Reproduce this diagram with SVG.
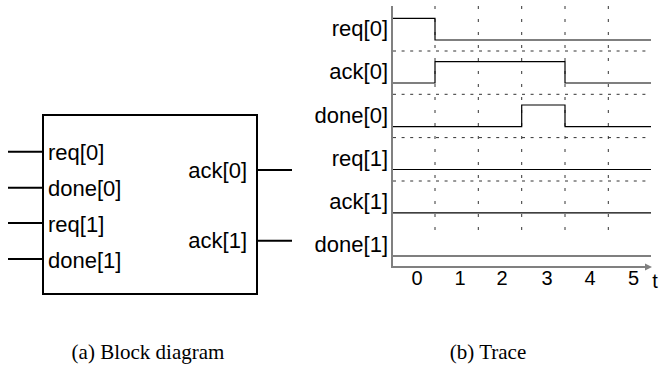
<svg xmlns="http://www.w3.org/2000/svg" width="662" height="367" viewBox="0 0 662 367">
<style>
.lbl{font-family:"Liberation Sans",Arial,sans-serif;font-size:22px;fill:#000}
.num{font-family:"Liberation Sans",Arial,sans-serif;font-size:20px;fill:#000;text-anchor:middle}
.cap{font-family:"Liberation Serif","Times New Roman",serif;font-size:21px;fill:#000;text-anchor:middle}
.stub{stroke:#000;stroke-width:2;fill:none}
.sig{stroke:#000;stroke-width:1.2;fill:none}
.hgrid{stroke:#333;stroke-width:1;stroke-dasharray:3 5.6;fill:none}
.vgrid{stroke:#333;stroke-width:1;stroke-dasharray:3 10;fill:none}
.axis{stroke:#808080;stroke-width:2;fill:none}
</style>
<rect width="662" height="367" fill="#fff"/>

<g id="block">
<rect x="43" y="115" width="214" height="179" fill="#fff" stroke="#000" stroke-width="2"/>
<text class="lbl" x="48" y="160">req[0]</text>
<text class="lbl" x="48" y="196">done[0]</text>
<text class="lbl" x="48" y="231.5">req[1]</text>
<text class="lbl" x="48" y="267.5">done[1]</text>
<text class="lbl" x="247" y="178" text-anchor="end">ack[0]</text>
<text class="lbl" x="247" y="248" text-anchor="end">ack[1]</text>
</g>

<g id="connectors">
<line class="stub" x1="8" y1="151.7" x2="43" y2="151.7"/>
<line class="stub" x1="8" y1="187.7" x2="43" y2="187.7"/>
<line class="stub" x1="8" y1="223" x2="43" y2="223"/>
<line class="stub" x1="8" y1="259" x2="43" y2="259"/>
<line class="stub" x1="257" y1="170" x2="292" y2="170"/>
<line class="stub" x1="257" y1="240.7" x2="292" y2="240.7"/>
</g>

<g id="trace">
<g id="grid">
<line class="vgrid" x1="435" y1="6" x2="435" y2="237"/>
<line class="vgrid" x1="478.3" y1="6" x2="478.3" y2="237"/>
<line class="vgrid" x1="521.7" y1="6" x2="521.7" y2="237"/>
<line class="vgrid" x1="565" y1="6" x2="565" y2="237"/>
<line class="vgrid" x1="608.3" y1="6" x2="608.3" y2="237"/>
<line class="hgrid" x1="393" y1="51" x2="646" y2="51"/>
<line class="hgrid" x1="393" y1="94.3" x2="646" y2="94.3"/>
<line class="hgrid" x1="393" y1="137.6" x2="646" y2="137.6"/>
<line class="hgrid" x1="393" y1="181" x2="646" y2="181"/>
</g>
<g id="signals">
<path class="sig" d="M392,18.3 H435 V40 H651"/>
<path class="sig" d="M392,83 H435 V61.7 H565 V83 H651"/>
<path class="sig" d="M392,126.7 H521.7 V105 H565 V126.7 H651"/>
<path class="sig" d="M392,169.5 H651"/>
<path class="sig" d="M392,212.8 H651"/>
<path class="sig" d="M392,256 H651"/>
</g>
<g id="axes">
<line class="axis" x1="392" y1="6" x2="392" y2="267"/>
<line class="axis" x1="391" y1="267" x2="646" y2="267"/>
<path d="M645,263.5 L652,267 L645,270.5 Z" fill="#808080"/>
</g>
<g id="labels">
<text class="lbl" x="388" y="36" text-anchor="end">req[0]</text>
<text class="lbl" x="388" y="79" text-anchor="end">ack[0]</text>
<text class="lbl" x="388" y="122.5" text-anchor="end">done[0]</text>
<text class="lbl" x="388" y="165.5" text-anchor="end">req[1]</text>
<text class="lbl" x="388" y="209" text-anchor="end">ack[1]</text>
<text class="lbl" x="388" y="252" text-anchor="end">done[1]</text>
<text class="num" x="417" y="285">0</text>
<text class="num" x="460" y="285">1</text>
<text class="num" x="502" y="285">2</text>
<text class="num" x="547" y="285">3</text>
<text class="num" x="590" y="285">4</text>
<text class="num" x="633.5" y="285">5</text>
<text class="num" x="655" y="288">t</text>
</g>
</g>

<text class="cap" x="148" y="359">(a) Block diagram</text>
<text class="cap" x="488" y="359">(b) Trace</text>
</svg>
